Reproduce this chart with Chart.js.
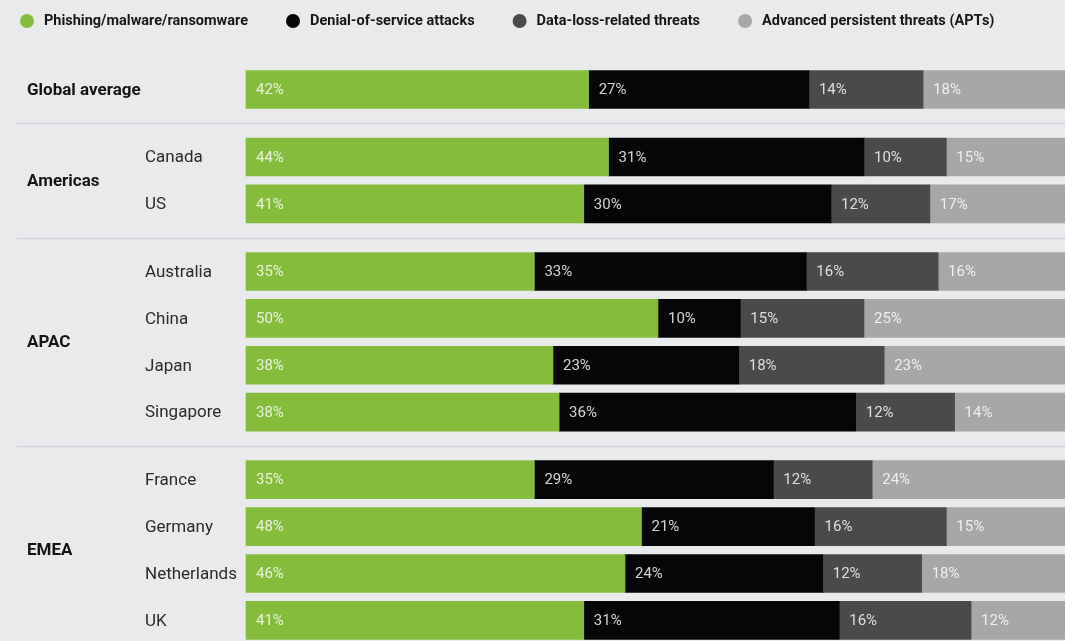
<!DOCTYPE html>
<html>
<head>
<meta charset="utf-8">
<script src="https://cdn.jsdelivr.net/npm/chart.js@4.4.1/dist/chart.umd.min.js"></script>
<style>
  html, body { margin: 0; padding: 0; background: #e9eaec; }
  #wrap { width: 1065px; height: 641px; }
</style>
</head>
<body>
<div id="wrap"><canvas id="c" width="1065" height="641"></canvas></div>
<script>
// ---- data ----
const rowLabels = ['Global average', 'Canada', 'US', 'Australia', 'China', 'Japan', 'Singapore', 'France', 'Germany', 'Netherlands', 'UK'];
const rowGroups = ['Global average', 'Americas', 'Americas', 'APAC', 'APAC', 'APAC', 'APAC', 'EMEA', 'EMEA', 'EMEA', 'EMEA'];
const groupNames = ['Global average', 'Americas', 'APAC', 'EMEA'];
const seriesNames = ['Phishing/malware/ransomware', 'Denial-of-service attacks', 'Data-loss-related threats', 'Advanced persistent threats (APTs)'];
const phishing = [42, 44, 41, 35, 50, 38, 38, 35, 48, 46, 41];
const dos      = [27, 31, 30, 33, 10, 23, 36, 29, 21, 24, 31];
const dataLoss = [14, 10, 12, 16, 15, 18, 12, 12, 16, 12, 16];
const apts     = [18, 15, 17, 16, 25, 23, 14, 24, 15, 18, 12];

// ---- styling / layout ----
const colors = ['#86bc3c', '#050608', '#4a4a4c', '#a7a7a8'];
const BG = '#e9eaec';
const GROUP_GAP = 0.44; // extra spacing between groups (in row units)

const rowPos = rowLabels.map((_, i) => i + groupNames.indexOf(rowGroups[i]) * GROUP_GAP);
const seriesValues = [phishing, dos, dataLoss, apts];
// 100%-stacked: each row is scaled to its own total
const rowTotals = rowLabels.map((_, i) => seriesValues.reduce((a, s) => a + s[i], 0));

const datasets = seriesValues.map((vals, s) => ({
  label: seriesNames[s],
  data: vals.map((v, i) => ({ x: v / rowTotals[i] * 100, y: rowPos[i] })),
  backgroundColor: colors[s],
  borderWidth: 0,
  barThickness: 38,
  clip: false
}));

const FONT = 'Roboto, "Liberation Sans", "DejaVu Sans", sans-serif';

const bgPlugin = {
  id: 'bg',
  beforeDraw(chart) {
    const ctx = chart.ctx;
    ctx.save();
    ctx.fillStyle = BG;
    ctx.fillRect(0, 0, chart.width, chart.height);
    ctx.restore();
  }
};

const decorPlugin = {
  id: 'decor',
  afterDatasetsDraw(chart) {
    const ctx = chart.ctx;
    ctx.save();
    ctx.font = '15px ' + FONT;
    ctx.textBaseline = 'middle';
    ctx.textAlign = 'left';
    ctx.fillStyle = 'rgba(255,255,255,0.82)';
    chart.data.datasets.forEach((ds, s) => {
      const meta = chart.getDatasetMeta(s);
      meta.data.forEach((bar, i) => {
        const start = Math.min(bar.base, bar.x);
        ctx.fillText(seriesValues[s][i] + '%', start + 10, bar.y + 1);
      });
    });
    ctx.restore();
  },
  afterDraw(chart) {
    const ctx = chart.ctx;
    const y = chart.scales.y;
    ctx.save();
    // separators between groups
    ctx.strokeStyle = '#d3d4d8';
    ctx.lineWidth = 1.5;
    for (let i = 1; i < rowLabels.length; i++) {
      if (rowGroups[i] !== rowGroups[i - 1]) {
        const py = Math.round(y.getPixelForValue((rowPos[i] + rowPos[i - 1]) / 2)) + 0.5;
        ctx.beginPath();
        ctx.moveTo(17, py);
        ctx.lineTo(chart.width, py);
        ctx.stroke();
      }
    }
    // group labels
    ctx.textBaseline = 'middle';
    ctx.textAlign = 'left';
    ctx.fillStyle = '#141414';
    ctx.font = 'bold 17px ' + FONT;
    groupNames.forEach(g => {
      const idx = rowGroups.map((rg, i) => rg === g ? i : -1).filter(i => i >= 0);
      const mid = idx.reduce((a, i) => a + rowPos[i], 0) / idx.length;
      ctx.fillText(g, 27, y.getPixelForValue(mid) + 1);
    });
    // row labels
    ctx.font = '17px ' + FONT;
    ctx.fillStyle = '#2a2a2a';
    rowLabels.forEach((lab, i) => {
      if (lab === rowGroups[i]) return;
      ctx.fillText(lab, 145, y.getPixelForValue(rowPos[i]) + 1);
    });
    // legend
    ctx.font = 'bold 14.5px ' + FONT;
    let cx = 27;
    const ly = 21;
    chart.data.datasets.forEach((ds, s) => {
      ctx.beginPath();
      ctx.arc(cx, ly, 7, 0, Math.PI * 2);
      ctx.fillStyle = ds.backgroundColor;
      ctx.fill();
      ctx.fillStyle = '#161616';
      const tx = cx + 17;
      ctx.fillText(ds.label, tx, ly);
      cx = tx + ctx.measureText(ds.label).width + 45;
    });
    ctx.restore();
  }
};

new Chart(document.getElementById('c'), {
  type: 'bar',
  data: { datasets },
  options: {
    indexAxis: 'y',
    responsive: false,
    devicePixelRatio: 1,
    animation: false,
    layout: { padding: { left: 246, right: 0, top: 70, bottom: 0 } },
    plugins: { legend: { display: false }, tooltip: { enabled: false } },
    scales: {
      x: { type: 'linear', stacked: true, min: 0, max: 99.4, display: false },
      y: { type: 'linear', stacked: true, reverse: true, offset: false, min: -0.416, max: 11.76, display: false }
    }
  },
  plugins: [bgPlugin, decorPlugin]
});
</script>
</body>
</html>
